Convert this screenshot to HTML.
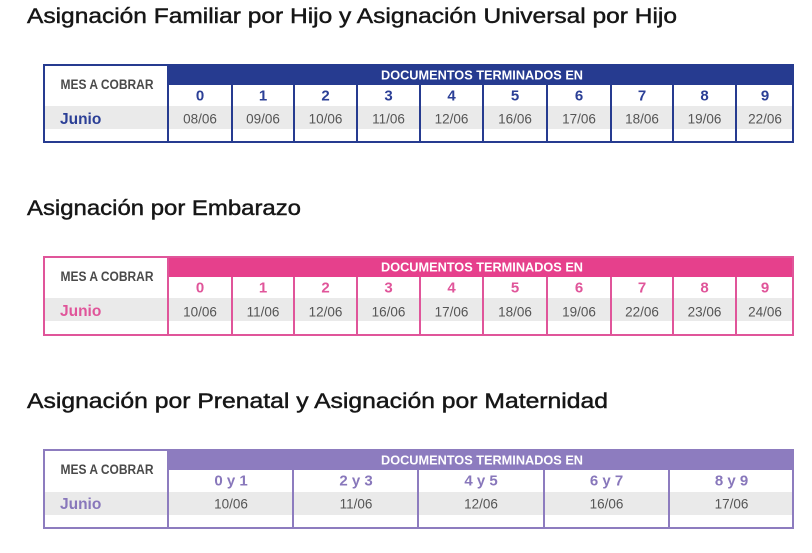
<!DOCTYPE html>
<html><head><meta charset="utf-8"><style>
html,body{margin:0;padding:0;background:#fff;}
svg{display:block;}
text{font-family:"Liberation Sans",Arial,sans-serif;}
</style></head><body>
<svg width="812" height="553" viewBox="0 0 812 553" xmlns="http://www.w3.org/2000/svg">
<rect width="812" height="553" fill="#fff"/>
<!-- Titles -->
<g fill="#161616" stroke="#161616" stroke-width="0.45">
<text x="27" y="23" font-size="21.5" textLength="650" lengthAdjust="spacingAndGlyphs">Asignación Familiar por Hijo y Asignación Universal por Hijo</text>
<text x="27" y="215" font-size="21.5" textLength="274" lengthAdjust="spacingAndGlyphs">Asignación por Embarazo</text>
<text x="27" y="408" font-size="21.5" textLength="581" lengthAdjust="spacingAndGlyphs">Asignación por Prenatal y Asignación por Maternidad</text>
</g>

<!-- Table 1 (blue) -->
<g>
<rect x="43" y="64" width="751" height="79" fill="#fff"/>
<rect x="168" y="64" width="626" height="21" fill="#263b90"/>
<rect x="43" y="106" width="751" height="23" fill="#eaeaea"/>
<g stroke="#263b90" stroke-width="2" fill="none">
<rect x="44" y="65" width="749" height="77"/>
<line x1="168" y1="64" x2="168" y2="143"/>
<line x1="232" y1="85" x2="232" y2="143"/>
<line x1="294" y1="85" x2="294" y2="143"/>
<line x1="357" y1="85" x2="357" y2="143"/>
<line x1="420" y1="85" x2="420" y2="143"/>
<line x1="483" y1="85" x2="483" y2="143"/>
<line x1="547" y1="85" x2="547" y2="143"/>
<line x1="611" y1="85" x2="611" y2="143"/>
<line x1="673" y1="85" x2="673" y2="143"/>
<line x1="736" y1="85" x2="736" y2="143"/>
</g>
<text x="107" y="89" font-size="13.5" font-weight="bold" fill="#4a4a4a" text-anchor="middle" textLength="93" lengthAdjust="spacingAndGlyphs">MES A COBRAR</text>
<text x="482" y="79.5" font-size="13" font-weight="bold" fill="#fff" text-anchor="middle" textLength="202" lengthAdjust="spacingAndGlyphs">DOCUMENTOS TERMINADOS EN</text>
<text x="60" y="124" font-size="15.5" font-weight="bold" fill="#2b3f96">Junio</text>
<g font-size="15" font-weight="bold" fill="#2b3f96" text-anchor="middle">
<text x="200" y="100.5">0</text><text x="263" y="100.5">1</text><text x="325.5" y="100.5">2</text><text x="388.5" y="100.5">3</text><text x="451.5" y="100.5">4</text><text x="515" y="100.5">5</text><text x="579" y="100.5">6</text><text x="642" y="100.5">7</text><text x="704.5" y="100.5">8</text><text x="765" y="100.5">9</text>
</g>
<g font-size="13.5" fill="#555" text-anchor="middle">
<text x="200" y="123.5">08/06</text><text x="263" y="123.5">09/06</text><text x="325.5" y="123.5">10/06</text><text x="388.5" y="123.5">11/06</text><text x="451.5" y="123.5">12/06</text><text x="515" y="123.5">16/06</text><text x="579" y="123.5">17/06</text><text x="642" y="123.5">18/06</text><text x="704.5" y="123.5">19/06</text><text x="765" y="123.5">22/06</text>
</g>
</g>

<!-- Table 2 (pink) -->
<g>
<rect x="43" y="256" width="751" height="80" fill="#fff"/>
<rect x="168" y="256" width="626" height="21" fill="#e6408c"/>
<rect x="43" y="298" width="751" height="23" fill="#eaeaea"/>
<g stroke="#e0559a" stroke-width="2" fill="none">
<rect x="44" y="257" width="749" height="78"/>
<line x1="168" y1="256" x2="168" y2="336"/>
<line x1="232" y1="277" x2="232" y2="336"/>
<line x1="294" y1="277" x2="294" y2="336"/>
<line x1="357" y1="277" x2="357" y2="336"/>
<line x1="420" y1="277" x2="420" y2="336"/>
<line x1="483" y1="277" x2="483" y2="336"/>
<line x1="547" y1="277" x2="547" y2="336"/>
<line x1="611" y1="277" x2="611" y2="336"/>
<line x1="673" y1="277" x2="673" y2="336"/>
<line x1="736" y1="277" x2="736" y2="336"/>
</g>
<text x="107" y="281" font-size="13.5" font-weight="bold" fill="#4a4a4a" text-anchor="middle" textLength="93" lengthAdjust="spacingAndGlyphs">MES A COBRAR</text>
<text x="482" y="271.5" font-size="13" font-weight="bold" fill="#fff" text-anchor="middle" textLength="202" lengthAdjust="spacingAndGlyphs">DOCUMENTOS TERMINADOS EN</text>
<text x="60" y="316" font-size="15.5" font-weight="bold" fill="#e0559a">Junio</text>
<g font-size="15" font-weight="bold" fill="#e0559a" text-anchor="middle">
<text x="200" y="292.5">0</text><text x="263" y="292.5">1</text><text x="325.5" y="292.5">2</text><text x="388.5" y="292.5">3</text><text x="451.5" y="292.5">4</text><text x="515" y="292.5">5</text><text x="579" y="292.5">6</text><text x="642" y="292.5">7</text><text x="704.5" y="292.5">8</text><text x="765" y="292.5">9</text>
</g>
<g font-size="13.5" fill="#555" text-anchor="middle">
<text x="200" y="316.5">10/06</text><text x="263" y="316.5">11/06</text><text x="325.5" y="316.5">12/06</text><text x="388.5" y="316.5">16/06</text><text x="451.5" y="316.5">17/06</text><text x="515" y="316.5">18/06</text><text x="579" y="316.5">19/06</text><text x="642" y="316.5">22/06</text><text x="704.5" y="316.5">23/06</text><text x="765" y="316.5">24/06</text>
</g>
</g>

<!-- Table 3 (purple) -->
<g>
<rect x="43" y="449" width="751" height="80" fill="#fff"/>
<rect x="168" y="449" width="626" height="21" fill="#8d7cbf"/>
<rect x="43" y="492" width="751" height="23" fill="#eaeaea"/>
<g stroke="#8d7cbf" stroke-width="2" fill="none">
<rect x="44" y="450" width="749" height="78"/>
<line x1="168" y1="449" x2="168" y2="529"/>
<line x1="293" y1="470" x2="293" y2="529"/>
<line x1="418" y1="470" x2="418" y2="529"/>
<line x1="544" y1="470" x2="544" y2="529"/>
<line x1="669" y1="470" x2="669" y2="529"/>
</g>
<text x="107" y="474" font-size="13.5" font-weight="bold" fill="#4a4a4a" text-anchor="middle" textLength="93" lengthAdjust="spacingAndGlyphs">MES A COBRAR</text>
<text x="482" y="464.5" font-size="13" font-weight="bold" fill="#fff" text-anchor="middle" textLength="202" lengthAdjust="spacingAndGlyphs">DOCUMENTOS TERMINADOS EN</text>
<text x="60" y="509" font-size="15.5" font-weight="bold" fill="#8877bb">Junio</text>
<g font-size="15" font-weight="bold" fill="#8877bb" text-anchor="middle">
<text x="231" y="485.5">0 y 1</text><text x="356" y="485.5">2 y 3</text><text x="481" y="485.5">4 y 5</text><text x="606.5" y="485.5">6 y 7</text><text x="731.5" y="485.5">8 y 9</text>
</g>
<g font-size="13.5" fill="#555" text-anchor="middle">
<text x="231" y="508.5">10/06</text><text x="356" y="508.5">11/06</text><text x="481" y="508.5">12/06</text><text x="606.5" y="508.5">16/06</text><text x="731.5" y="508.5">17/06</text>
</g>
</g>
</svg>
</body></html>
